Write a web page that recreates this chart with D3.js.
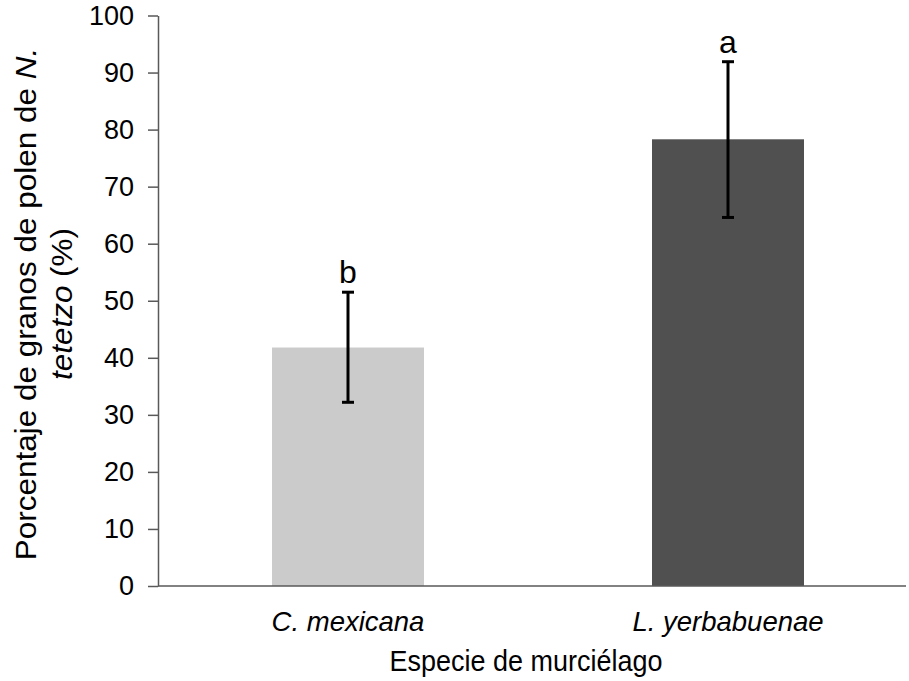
<!DOCTYPE html>
<html>
<head>
<meta charset="utf-8">
<script src="https://cdn.jsdelivr.net/npm/d3@7"></script>
<style>
  body { margin: 0; background: #fff; }
  svg { display: block; font-family: "Liberation Sans", Arial, sans-serif; }
</style>
</head>
<body>
<svg id="chart" width="909" height="681"></svg>
<script>
// Bat species and the share of N. tetetzo pollen grains they carried
const species = ["C. mexicana", "L. yerbabuenae"];
const meanPct = [41.8, 78.3];
const lowerPct = [32.2, 64.6];
const upperPct = [51.5, 91.9];
const groupLetters = ["b", "a"];
const barColors = ["#cbcbcb", "#505050"];
const yTicks = [0, 10, 20, 30, 40, 50, 60, 70, 80, 90, 100];

const data = species.map((s, i) => ({
  name: s, mean: meanPct[i], lo: lowerPct[i], hi: upperPct[i],
  letter: groupLetters[i], color: barColors[i]
}));

const svg = d3.select("#chart");
const plotLeft = 158, plotRight = 906, plotTop = 15.5, plotBottom = 586;
const axisColor = "#595959";

const x = d3.scaleBand()
  .domain(species)
  .range([plotLeft, plotLeft + 2 * 380])
  .paddingInner(0.6)
  .paddingOuter(0.3);
const cx = d => x(d.name) + x.bandwidth() / 2;

const y = d3.scaleLinear().domain([0, 100]).range([plotBottom, plotTop]);

// bars
svg.selectAll("rect.bar").data(data).enter().append("rect")
  .attr("class", "bar")
  .attr("x", d => x(d.name))
  .attr("width", x.bandwidth())
  .attr("y", d => y(d.mean))
  .attr("height", d => y(0) - y(d.mean))
  .attr("fill", d => d.color);

// y axis
const yAxis = svg.append("g")
  .attr("transform", `translate(${plotLeft},0)`)
  .call(d3.axisLeft(y).tickValues(yTicks).tickSize(10).tickPadding(14).tickSizeOuter(0));
yAxis.select(".domain").attr("stroke", axisColor).attr("stroke-width", 1.5);
yAxis.selectAll(".tick line").attr("stroke", axisColor).attr("stroke-width", 1.5);
yAxis.selectAll(".tick text")
  .attr("font-size", 27).attr("fill", "#000")
  .attr("font-family", "'Liberation Sans', Arial, sans-serif");

// x axis line
svg.append("line")
  .attr("x1", plotLeft).attr("x2", plotRight)
  .attr("y1", y(0)).attr("y2", y(0))
  .attr("stroke", axisColor).attr("stroke-width", 1.5);

// category labels
svg.selectAll("text.cat").data(data).enter().append("text")
  .attr("class", "cat")
  .attr("x", cx)
  .attr("y", 631)
  .attr("text-anchor", "middle")
  .attr("font-size", 27.5)
  .attr("font-style", "italic")
  .text(d => d.name);

// error bars
const capHalf = 6;
const eb = svg.selectAll("g.err").data(data).enter().append("g")
  .attr("class", "err")
  .attr("stroke", "#000").attr("stroke-width", 3);
eb.append("line")
  .attr("x1", cx).attr("x2", cx)
  .attr("y1", d => y(d.lo)).attr("y2", d => y(d.hi));
eb.append("line")
  .attr("x1", d => cx(d) - capHalf).attr("x2", d => cx(d) + capHalf)
  .attr("y1", d => y(d.hi)).attr("y2", d => y(d.hi));
eb.append("line")
  .attr("x1", d => cx(d) - capHalf).attr("x2", d => cx(d) + capHalf)
  .attr("y1", d => y(d.lo)).attr("y2", d => y(d.lo));

// significance letters
svg.selectAll("text.letter").data(data).enter().append("text")
  .attr("class", "letter")
  .attr("x", cx)
  .attr("y", d => y(d.hi) - 9)
  .attr("text-anchor", "middle")
  .attr("font-size", 32)
  .text(d => d.letter);

// x axis title
svg.append("text")
  .attr("transform", "translate(526,671) scale(0.93,1)")
  .attr("text-anchor", "middle")
  .attr("font-size", 29)
  .text("Especie de murciélago");

// y axis title (two lines, centred on the value axis)
const yt = svg.append("text")
  .attr("transform", "translate(0,304) rotate(-90) scale(1.085,1)")
  .attr("text-anchor", "middle")
  .attr("font-size", 29);
const l1 = yt.append("tspan").attr("x", 0).attr("y", 36);
l1.append("tspan").text("Porcentaje de granos de polen de ");
l1.append("tspan").attr("font-style", "italic").text("N.");
const l2 = yt.append("tspan").attr("x", 0).attr("y", 72);
l2.append("tspan").attr("font-style", "italic").text("tetetzo");
l2.append("tspan").text(" (%)");
</script>
</body>
</html>
